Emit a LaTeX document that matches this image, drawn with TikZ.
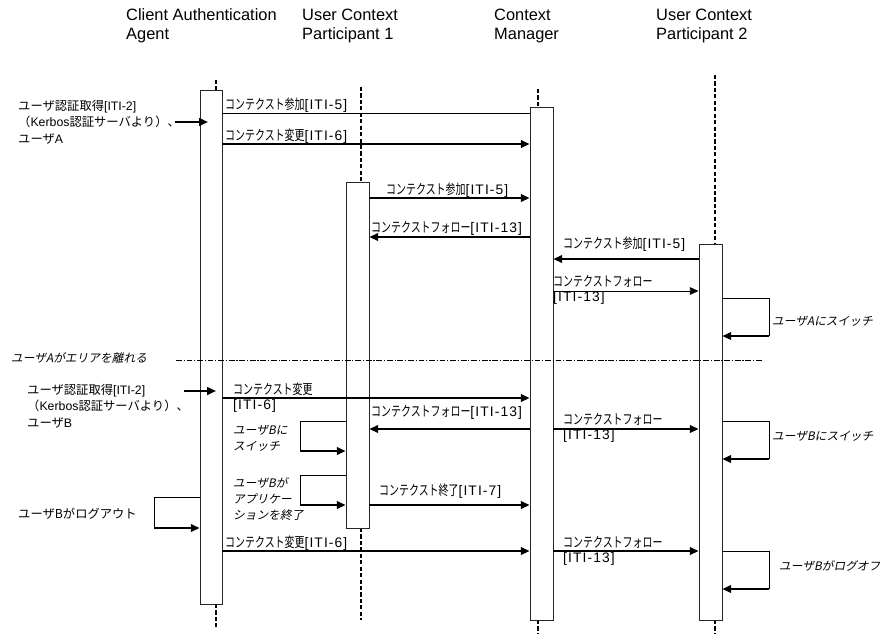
\documentclass[tikz,border=0pt]{standalone}
\usepackage{fontspec}
\setmainfont{Liberation Sans}
\newfontfamily\jpfont{Noto Sans CJK JP}
\newfontfamily\jpmsgfont[FakeStretch=0.72]{Noto Sans CJK JP}
\newfontfamily\jpitfont[FakeSlant=0.2]{Noto Sans CJK JP}
\usetikzlibrary{arrows.meta,fit}

\tikzset{
  actbox/.style={draw=black!85, line width=0.7pt, fill=white, inner sep=0pt},
  life/.style={line width=1.4pt, dash pattern=on 3.5pt off 2pt},
  lnk/.style={line width=0.8pt},
  msg/.style={line width=1.7pt, -{Triangle[length=7.5pt,width=6.5pt]}},
  thinmsg/.style={line width=0.8pt, -{Triangle[length=7.5pt,width=6.5pt]}},
  sepline/.style={line width=0.7pt, dash pattern=on 5pt off 1.5pt on 1pt off 1.5pt},
  head/.style={anchor=base west, inner sep=0pt, align=left, font=\fontsize{14}{15.6}\selectfont},
  msglbl/.style={anchor=base west, inner sep=0pt, align=left, font=\fontsize{11.8}{12}\selectfont\addfontfeatures{LetterSpace=8}},
  note/.style={anchor=base west, inner sep=0pt, align=left, font=\fontsize{10}{13.5}\selectfont\jpitfont},
  annot/.style={anchor=base west, inner sep=0pt, align=left, font=\fontsize{10.5}{14}\selectfont},
}

\begin{document}
\begin{tikzpicture}[x=0.03cm, y=-0.03cm]
\useasboundingbox (0,0) rectangle (888,633);

% Headers (base = last line)
\node[head] (hcaa) at (126,39) {Client Authentication\\Agent};
\node[head] (hp1) at (302,39) {User Context\\Participant 1};
\node[head] (hcm) at (494,39) {Context\\Manager};
\node[head] (hp2) at (656,39) {User Context\\Participant 2};

% Lifelines
\draw[life] (216,80) -- (216,90);
\draw[life] (216,604) -- (216,627);
\draw[life] (361,87) -- (361,182);
\draw[life] (361,528) -- (361,620);
\draw[life] (538,89) -- (538,107);
\draw[life] (538,620) -- (538,633);
\draw[life] (715,75) -- (715,244);
\draw[life] (715,620) -- (715,633);

% Activation boxes
\node[actbox, fit={(200,90) (222,604)}] (caa) {};
\node[actbox, fit={(346,182) (369,528)}] (p1) {};
\node[actbox, fit={(530,107) (553,620)}] (cm) {};
\node[actbox, fit={(699,244) (722,620)}] (p2) {};

% User A logs in
\coordinate (inA) at (175,122);
\coordinate (inAend) at (208,122);
\draw[msg] (inA) -- (inAend);
\node[annot] (authA) at (18,143) {{\jpfont ユーザ認証取得}[ITI-2]\\{\jpfont （}Kerbos{\jpfont 認証サーバより）、}\\{\jpfont ユーザ}A};

\draw[lnk] (caa.east |- 0,113) -- (cm.west |- 0,113);
\node[msglbl] (m1) at (225,109) {{\jpmsgfont コンテクスト参加}[ITI-5]};
\draw[msg] (caa.east |- 0,144) -- (cm.west |- 0,144);
\node[msglbl] (m2) at (225,140) {{\jpmsgfont コンテクスト変更}[ITI-6]};

\draw[msg] (p1.east |- 0,198) -- (cm.west |- 0,198);
\node[msglbl] (m3) at (386,194) {{\jpmsgfont コンテクスト参加}[ITI-5]};
\draw[msg] (cm.west |- 0,237) -- (p1.east |- 0,237);
\node[msglbl] (m4) at (371,232) {{\jpmsgfont コンテクストフォロー}[ITI-13]};

\draw[msg] (p2.west |- 0,259) -- (cm.east |- 0,259);
\node[msglbl] (m5) at (563,248) {{\jpmsgfont コンテクスト参加}[ITI-5]};
\draw[thinmsg] (cm.east |- 0,291) -- (p2.west |- 0,291);
\node[msglbl] (m6) at (553,301) {{\jpmsgfont コンテクストフォロー}\\{}[ITI-13]};

\coordinate (swA) at (769,336);
\draw[lnk] (p2.east |- 0,298) -| (swA);
\draw[msg] (swA) -- (p2.east |- swA);
\node[note] (nswA) at (772,325) {ユーザAにスイッチ};

% User A leaves
\draw[sepline] (176,360) -- (762,360);
\node[note] (leave) at (11,362) {ユーザAがエリアを離れる};

% User B logs in
\coordinate (inB) at (184,391);
\coordinate (inBend) at (216,391);
\draw[msg] (inB) -- (inBend);
\node[annot] (authB) at (27,427) {{\jpfont ユーザ認証取得}[ITI-2]\\{\jpfont （}Kerbos{\jpfont 認証サーバより）、}\\{\jpfont ユーザ}B};

\draw[msg] (caa.east |- 0,398) -- (cm.west |- 0,398);
\node[msglbl] (m7) at (233,409) {{\jpmsgfont コンテクスト変更}\\{}[ITI-6]};
\draw[msg] (cm.west |- 0,429) -- (p1.east |- 0,429);
\node[msglbl] (m8) at (371,416) {{\jpmsgfont コンテクストフォロー}[ITI-13]};
\draw[msg] (cm.east |- 0,429) -- (p2.west |- 0,429);
\node[msglbl] (m9) at (563,439) {{\jpmsgfont コンテクストフォロー}\\{}[ITI-13]};

\coordinate (swB1) at (300,451);
\draw[lnk] (p1.west |- 0,421) -| (swB1);
\draw[msg] (swB1) -- (p1.west |- swB1);
\node[note] (nswB1) at (233,450) {ユーザBに\\スイッチ};

\coordinate (swB2) at (769,459);
\draw[lnk] (p2.east |- 0,421) -| (swB2);
\draw[msg] (swB2) -- (p2.east |- swB2);
\node[note] (nswB2) at (772,440) {ユーザBにスイッチ};

% User B quits
\coordinate (quitB) at (300,505);
\draw[lnk] (p1.west |- 0,475) -| (quitB);
\draw[msg] (quitB) -- (p1.west |- quitB);
\node[note] (nquit) at (233,519) {ユーザBが\\アプリケー\\ションを終了};
\draw[msg] (p1.east |- 0,505) -- (cm.west |- 0,505);
\node[msglbl] (m10) at (379,495) {{\jpmsgfont コンテクスト終了}[ITI-7]};

\coordinate (outB) at (154,528);
\draw[lnk] (caa.west |- 0,497) -| (outB);
\draw[msg] (outB) -- (caa.west |- outB);
\node[annot] (nout) at (18,518) {{\jpfont ユーザBがログアウト}};

\draw[msg] (caa.east |- 0,551) -- (cm.west |- 0,551);
\node[msglbl] (m11) at (225,547) {{\jpmsgfont コンテクスト変更}[ITI-6]};
\draw[msg] (cm.east |- 0,551) -- (p2.west |- 0,551);
\node[msglbl] (m12) at (563,562) {{\jpmsgfont コンテクストフォロー}\\{}[ITI-13]};

\coordinate (offB) at (769,589);
\draw[lnk] (p2.east |- 0,551) -| (offB);
\draw[msg] (offB) -- (p2.east |- offB);
\node[note] (noff) at (779,570) {ユーザBがログオフ};

\end{tikzpicture}
\end{document}
